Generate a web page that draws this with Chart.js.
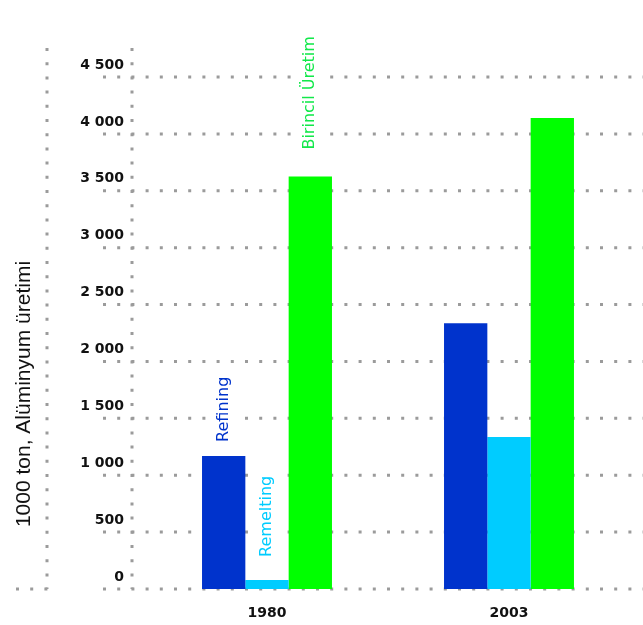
<!DOCTYPE html>
<html>
<head>
<meta charset="utf-8">
<script src="https://cdn.jsdelivr.net/npm/chart.js@4/dist/chart.umd.min.js"></script>
<style>
  html, body { margin: 0; padding: 0; background: #ffffff; }
  #wrap { width: 643px; height: 625px; }
</style>
</head>
<body>
<div id="wrap"><canvas id="c" width="643" height="625"></canvas></div>
<script>
// Aluminium production, thousand tonnes
const categories = ['1980', '2003'];
const refining = [1170, 2335];
const remelting = [80, 1335];
const birincilUretim = [3625, 4140];
const seriesNames = ['Refining', 'Remelting', 'Birincil Üretim'];
const yTicks = [0, 500, 1000, 1500, 2000, 2500, 3000, 3500, 4000, 4500];
const yTitle = '1000 ton, Alüminyum üretimi';

const GRID_COLOR = '#9b9b9b';

// thousands separated by a space: 4500 -> "4 500"
function fmt(v) {
  return String(v).replace(/\B(?=(\d{3})+(?!\d))/g, ' ');
}

// dotted grid and axis lines, drawn behind the bars
const dottedGrid = {
  id: 'dottedGrid',
  beforeDatasetsDraw(chart) {
    const { ctx, scales: { y } } = chart;
    const W = chart.width;
    const yBase = y.getPixelForValue(0);
    ctx.save();
    ctx.strokeStyle = GRID_COLOR;
    ctx.lineWidth = 3;
    ctx.lineCap = 'butt';
    ctx.setLineDash([3, 11.2]);
    yTicks.forEach(v => {
      const py = y.getPixelForValue(v);
      ctx.beginPath();
      ctx.moveTo(103, py);
      ctx.lineTo(W, py);
      ctx.stroke();
    });
    // short stub of the base line at the far left
    ctx.beginPath();
    ctx.moveTo(16, yBase);
    ctx.lineTo(50, yBase);
    ctx.stroke();
    // two vertical dotted rules
    [47, 132].forEach(px => {
      ctx.beginPath();
      ctx.moveTo(px, 48);
      ctx.lineTo(px, yBase);
      ctx.stroke();
    });
    ctx.restore();
  }
};

// series names written upright above the 1980 bars, on a white backing
const seriesLabels = {
  id: 'seriesLabels',
  afterDatasetsDraw(chart) {
    const { ctx } = chart;
    chart.data.datasets.forEach((ds, i) => {
      const bar = chart.getDatasetMeta(i).data[0];
      if (!bar) return;
      ctx.save();
      ctx.translate(bar.x, bar.y - ds.labelGap);
      ctx.rotate(-Math.PI / 2);
      ctx.font = '16px "DejaVu Sans"';
      const w = ctx.measureText(ds.label).width;
      ctx.fillStyle = '#ffffff';
      ctx.fillRect(-3, -16, w + 6, 32);
      ctx.fillStyle = ds.labelColor;
      ctx.textAlign = 'left';
      ctx.textBaseline = 'middle';
      ctx.fillText(ds.label, 0, 0);
      ctx.restore();
    });
  }
};

// vertical axis title
const axisTitle = {
  id: 'axisTitle',
  afterDraw(chart) {
    const { ctx } = chart;
    ctx.save();
    ctx.translate(24, 394);
    ctx.rotate(-Math.PI / 2);
    ctx.font = '21px "Liberation Sans"';
    ctx.fillStyle = '#111111';
    ctx.textAlign = 'center';
    ctx.textBaseline = 'middle';
    ctx.fillText(yTitle, 0, 0);
    ctx.restore();
  }
};

new Chart(document.getElementById('c'), {
  type: 'bar',
  data: {
    labels: categories,
    datasets: [
      { label: seriesNames[0], data: refining, backgroundColor: '#0033cc', labelColor: '#0033cc', labelGap: 14 },
      { label: seriesNames[1], data: remelting, backgroundColor: '#00ccff', labelColor: '#00ccff', labelGap: 23 },
      { label: seriesNames[2], data: birincilUretim, backgroundColor: '#00ff00', labelColor: '#12e84a', labelGap: 27 }
    ]
  },
  options: {
    responsive: false,
    animation: false,
    devicePixelRatio: 1,
    layout: { padding: { top: 77, right: 13, bottom: 0, left: 0 } },
    datasets: { bar: { categoryPercentage: 0.537, barPercentage: 1.0, borderWidth: 0 } },
    plugins: { legend: { display: false }, tooltip: { enabled: false } },
    scales: {
      x: {
        grid: { display: false, drawTicks: false },
        border: { display: false },
        ticks: {
          padding: 16,
          color: '#111111',
          font: { family: 'DejaVu Sans', size: 14, weight: 'bold' }
        },
        afterFit(scale) { scale.height = 36; }
      },
      y: {
        min: 0,
        max: 4500,
        grid: { display: false, drawTicks: false },
        border: { display: false },
        afterBuildTicks(scale) { scale.ticks = yTicks.map(v => ({ value: v })); },
        ticks: {
          padding: 22,
          labelOffset: -12,
          color: '#111111',
          font: { family: 'DejaVu Sans', size: 14, weight: 'bold' },
          callback: v => fmt(v)
        },
        afterFit(scale) { scale.width = 146; }
      }
    }
  },
  plugins: [dottedGrid, seriesLabels, axisTitle]
});
</script>
</body>
</html>
